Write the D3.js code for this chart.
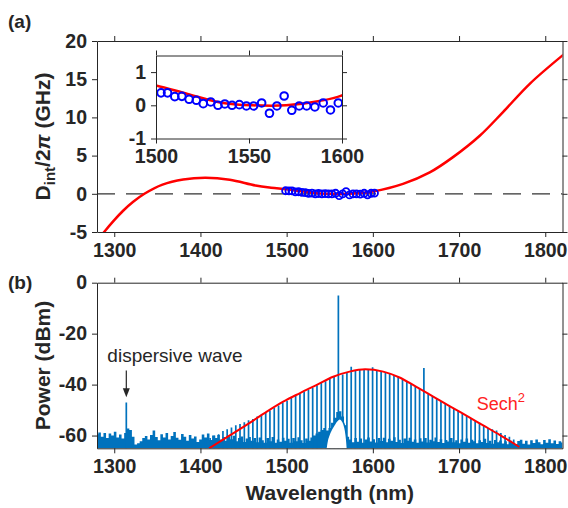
<!DOCTYPE html>
<meta charset="utf-8">
<script src="https://d3js.org/d3.v7.min.js"></script>
<style>
  body { margin: 0; background: #fff; }
  text { font-family: "Liberation Sans", Arial, sans-serif; fill: #262626; }
  .axis text { font-size: 19.5px; font-weight: bold; fill: #262626; font-family: "Liberation Sans", Arial, sans-serif; }
  .axis path, .axis line { stroke: #262626; stroke-width: 1; }
  .lbl { font-size: 21px; font-weight: bold; }
</style>
<body>
<script>

// ---- (a) integrated dispersion ----
var fitLambda = [1282, 1289, 1300, 1310, 1322, 1335, 1356, 1380, 1406, 1434, 1464, 1482, 1500, 1517, 1535, 1552, 1570, 1588, 1600, 1635, 1666, 1693, 1724, 1751, 1782, 1822];
var fitDint   = [-5.9, -4.9, -3.45, -2.25, -1.05, 0, 1.2, 1.87, 2.09, 1.83, 1.08, 0.8, 0.6, 0.34, 0.08, 0, 0, 0.13, 0.3, 1.3, 2.8, 4.8, 7.6, 10.7, 14.4, 18.3];

var measLambda = [1498.8, 1502.7, 1506.2, 1510.1, 1513.9, 1517.8, 1521.7, 1525.4, 1529.4, 1533.3, 1537.0, 1540.9, 1544.8, 1548.6, 1552.5, 1556.8, 1561.0, 1565.0, 1568.9, 1573.0, 1577.0, 1581.0, 1585.4, 1589.9, 1593.8, 1598.0, 1601.9];
var measDint   = [0.4, 0.375, 0.375, 0.26, 0.27, 0.18, 0.15, 0.05, 0.10, 0.0, 0.04, 0.0, 0.02, -0.02, -0.02, 0.07, -0.24, -0.02, 0.28, -0.15, -0.02, -0.02, -0.05, 0.07, -0.14, 0.07, 0.1];

// ---- (b) spectrum ----
var combLambda = [1406.2, 1411.2, 1416.2, 1421.1, 1426.1, 1431.0, 1436.0, 1441.0, 1445.9, 1450.9,
                  1455.8, 1460.8, 1465.8, 1470.7, 1475.7, 1480.6, 1485.6, 1490.6, 1495.5, 1500.5,
                  1505.4, 1510.4, 1515.4, 1520.3, 1525.3, 1530.2, 1535.2, 1540.2, 1545.1, 1550.1,
                  1555.0, 1560.0, 1565.0, 1569.9, 1574.9, 1579.8, 1584.8, 1589.8, 1594.7, 1599.7,
                  1604.6, 1609.6, 1614.6, 1619.5, 1624.5, 1629.4, 1634.4, 1639.4, 1644.3, 1649.3,
                  1654.2, 1659.2, 1664.2, 1669.1, 1674.1, 1679.0, 1684.0, 1689.0, 1693.9, 1698.9,
                  1703.8, 1708.8, 1713.8, 1718.7, 1723.7, 1728.6, 1733.6, 1738.6, 1743.5, 1748.5,
                  1753.4, 1758.4, 1763.4];
var combPeak = [-62.0, -61.0, -60.0, -59.5, -58.2, -57.5, -56.8, -56.0, -55.5, -54.8,
                -54.0, -53.5, -52.5, -51.8, -51.0, -50.2, -49.2, -48.2, -47.0, -46.3,
                -45.2, -44.5, -43.6, -42.8, -42.0, -41.2, -40.3, -39.4, -38.7, -37.8,
                -37.0, -5.0, -36.0, -35.3, -33.0, -34.5, -34.2, -34.0, -34.0, -33.2,
                -34.6, -34.8, -35.3, -35.8, -36.4, -37.0, -37.8, -38.8, -39.7, -40.7,
                -41.6, -33.5, -43.6, -44.6, -45.5, -46.5, -47.5, -48.5, -49.4, -50.4,
                -51.3, -52.3, -53.2, -54.2, -55.0, -56.0, -57.0, -57.5, -58.0, -59.0,
                -59.8, -60.5, -61.5];

var dwLambda = 1314, dwPeak = -47;

// noise floor, sampled every 3 nm from 1280 nm
var noiseStart = 1280, noiseStep = 3;
var noiseTop = [
  -59.5, -58.8, -60.5, -59.0, -61.0, -59.2, -60.0, -58.5, -60.8, -59.6,  // 1280
  -61.2, -59.0, -57.2, -57.8, -60.5, -63.5, -63.0, -62.2, -61.0, -60.2,  // 1310
  -61.5, -59.8, -58.0, -60.6, -61.8, -59.5, -60.8, -59.0, -61.5, -60.2,  // 1340
  -58.6, -60.9, -61.6, -59.4, -60.5, -62.0, -59.8, -61.2, -60.4, -62.5,  // 1370
  -61.5, -59.6, -60.8, -59.2, -61.7, -60.0, -61.0, -59.8, -61.5, -60.6,  // 1400
  -62.0, -60.3, -61.4, -60.1, -62.2, -61.0, -60.4, -62.5, -61.2, -60.6,  // 1430
  -62.0, -61.0, -62.6, -60.8, -61.8, -62.8, -61.0, -62.2, -60.6, -62.8,  // 1460
  -61.5, -62.4, -60.9, -62.0, -61.3, -62.8, -61.0, -62.2, -60.7, -61.8,  // 1490
  -62.9, -61.2, -62.0, -60.8, -60.0, -59.2, -58.5, -57.8, -57.0, -58.0,  // 1520
  -57.0, -55.0, -53.0, -50.8, -50.5, -52.5, -56.0, -60.5, -61.5, -62.6,  // 1550
  -61.0, -62.4, -61.2, -62.8, -61.5, -60.8, -62.3, -61.4, -62.7, -61.0,  // 1580
  -62.1, -60.9, -62.6, -61.3, -62.0, -60.7, -62.5, -61.6, -62.9, -61.2,  // 1610
  -62.0, -60.9, -62.4, -61.5, -62.8, -61.1, -62.3, -61.0, -62.7, -61.6,  // 1640
  -62.2, -60.8, -62.5, -61.4, -62.9, -61.7, -62.3, -61.0, -62.6, -61.8,  // 1670
  -63.0, -61.5, -62.4, -61.2, -62.8, -61.6, -62.2, -63.0, -61.8, -62.5,  // 1700
  -61.3, -62.9, -62.0, -63.2, -61.7, -62.6, -61.9, -63.1, -62.2, -63.4,  // 1730
  -62.0, -62.8, -63.3, -62.1, -61.6, -63.2, -62.0, -63.5, -61.8, -62.9,  // 1760
  -61.5, -62.6, -63.4, -61.7, -62.8, -61.4, -63.0, -61.9, -63.3, -62.2,  // 1790
  -62.7];

// raised floor under the pump (lower edge of the trace)
var humpLambda = [1545.5, 1547, 1549, 1552, 1555, 1558, 1561.5, 1564, 1566.5, 1568.5, 1569.7, 1570.5];
var humpLow    = [-65, -62, -59.8, -57.5, -55.8, -54.3, -53.4, -53.9, -55.5, -58.3, -61.5, -65];

// sech^2 fit
var sechLambda = [1410, 1430, 1457.6, 1477, 1496, 1515, 1535, 1554, 1573, 1591, 1612, 1631, 1650, 1670, 1690, 1709, 1728, 1747, 1770];
var sechPower  = [-65, -60.8, -54.9, -50.6, -46.7, -43.4, -40.1, -36.9, -34.9, -34, -34.9, -37.2, -40.8, -44.7, -48.6, -52.3, -56, -59.7, -64.5];

var xTicks = [1300, 1400, 1500, 1600, 1700, 1800];
var yTicksA = [-5, 0, 5, 10, 15, 20];
var yTicksB = [-60, -40, -20, 0];
var xTicksInset = [1500, 1550, 1600];
var yTicksInset = [-1, 0, 1];

var blue = "#0072BD";

var svg = d3.select("body").append("svg")
    .attr("width", 568)
    .attr("height", 508);

svg.append("rect").attr("width", 568).attr("height", 508).attr("fill", "#fff");

var x = d3.scaleLinear().domain([1280, 1820]).range([97, 562.5]);
var yA = d3.scaleLinear().domain([-5, 20]).range([232, 41]);
var yB = d3.scaleLinear().domain([-65, 0]).range([448.3, 282.7]);
var xi = d3.scaleLinear().domain([1500, 1600]).range([156, 342]);
var yi = d3.scaleLinear().domain([-1, 1.5]).range([138.5, 55.5]);

var defs = svg.append("defs");
function clip(id, xs, ys) {
    defs.append("clipPath").attr("id", id).append("rect")
        .attr("x", xs.range()[0]).attr("y", ys.range()[1])
        .attr("width", xs.range()[1] - xs.range()[0])
        .attr("height", ys.range()[0] - ys.range()[1]);
}
clip("clipA", x, yA);
clip("clipB", x, yB);
clip("clipI", xi, yi);

// box with outward ticks on all four sides
function box(g, xs, ys, xt, yt) {
    var fmt = d => String(d);
    g.append("g").attr("class", "axis")
        .attr("transform", `translate(0,${ys.range()[0]})`)
        .call(d3.axisBottom(xs).tickValues(xt).tickSize(5).tickSizeOuter(0).tickPadding(6).tickFormat(fmt));
    g.append("g").attr("class", "axis")
        .attr("transform", `translate(0,${ys.range()[1]})`)
        .call(d3.axisTop(xs).tickValues(xt).tickSize(5).tickSizeOuter(0).tickFormat(""));
    g.append("g").attr("class", "axis")
        .attr("transform", `translate(${xs.range()[0]},0)`)
        .call(d3.axisLeft(ys).tickValues(yt).tickSize(5).tickSizeOuter(0).tickPadding(5).tickFormat(fmt));
    g.append("g").attr("class", "axis")
        .attr("transform", `translate(${xs.range()[1]},0)`)
        .call(d3.axisRight(ys).tickValues(yt).tickSize(5).tickSizeOuter(0).tickFormat(""));
}

// ================= panel (a) =================
var gA = svg.append("g");
var plotA = gA.append("g").attr("clip-path", "url(#clipA)");

plotA.append("line")
    .attr("x1", x.range()[0]).attr("x2", x.range()[1])
    .attr("y1", yA(0)).attr("y2", yA(0))
    .attr("stroke", "#333").attr("stroke-width", 1.2)
    .attr("stroke-dasharray", "18,11");

var fitPts = fitLambda.map((l, i) => [l, fitDint[i]]);
var measPts = measLambda.map((l, i) => [l, measDint[i]]);
var smooth = d3.curveCatmullRom.alpha(0.5);

plotA.append("path")
    .attr("d", d3.line().x(d => x(d[0])).y(d => yA(d[1])).curve(smooth)(fitPts))
    .attr("fill", "none").attr("stroke", "red").attr("stroke-width", 2.5);

plotA.selectAll(".m").data(measPts).join("circle")
    .attr("cx", d => x(d[0])).attr("cy", d => yA(d[1])).attr("r", 3.5)
    .attr("fill", "none").attr("stroke", "#0000ff").attr("stroke-width", 1.8);

box(gA, x, yA, xTicks, yTicksA);

// inset
var gI = svg.append("g");
gI.append("rect")
    .attr("x", xi.range()[0]).attr("y", yi.range()[1])
    .attr("width", xi.range()[1] - xi.range()[0]).attr("height", yi.range()[0] - yi.range()[1])
    .attr("fill", "#fff");
var plotI = gI.append("g").attr("clip-path", "url(#clipI)");
plotI.append("path")
    .attr("d", d3.line().x(d => xi(d[0])).y(d => yi(d[1])).curve(smooth)(fitPts))
    .attr("fill", "none").attr("stroke", "red").attr("stroke-width", 2.5);
gI.selectAll(".mi").data(measPts.filter(d => d[0] >= 1500 && d[0] <= 1600)).join("circle")
    .attr("cx", d => xi(d[0])).attr("cy", d => yi(d[1])).attr("r", 3.8)
    .attr("fill", "none").attr("stroke", "#0000ff").attr("stroke-width", 2);
box(gI, xi, yi, xTicksInset, yTicksInset);

// labels (a)
svg.append("text").attr("x", 8).attr("y", 27.5)
    .style("font-size", "19px").style("font-weight", "bold").text("(a)");

var yLabA = svg.append("text").attr("class", "lbl")
    .attr("transform", `translate(50,${(yA.range()[0] + yA.range()[1]) / 2}) rotate(-90)`)
    .attr("text-anchor", "middle");
yLabA.append("tspan").text("D");
yLabA.append("tspan").attr("dy", 5).style("font-size", "15px").text("int");
yLabA.append("tspan").attr("dy", -5).text("/2");
yLabA.append("tspan").style("font-style", "italic").text("π");
yLabA.append("tspan").text(" (GHz)");

// ================= panel (b) =================
var gB = svg.append("g");
var plotB = gB.append("g").attr("clip-path", "url(#clipB)");

var noisePts = noiseTop.map((v, i) => [noiseStart + i * noiseStep, v]);
plotB.append("path")
    .attr("d", d3.area().x(d => x(d[0])).y0(yB(-65)).y1(d => yB(d[1])).curve(d3.curveStep)(noisePts))
    .attr("fill", blue);

var lines = combLambda.map((l, i) => [l, combPeak[i]]).concat([[dwLambda, dwPeak]]);
plotB.selectAll(".c").data(lines).join("line")
    .attr("x1", d => x(d[0])).attr("x2", d => x(d[0]))
    .attr("y1", yB(-65)).attr("y2", d => yB(d[1]))
    .attr("stroke", blue).attr("stroke-width", 1.7);

var humpPts = humpLambda.map((l, i) => [l, humpLow[i]]);
plotB.append("path")
    .attr("d", d3.area().x(d => x(d[0])).y0(yB(-65)).y1(d => yB(d[1])).curve(d3.curveMonotoneX)(humpPts))
    .attr("fill", "#fff");
plotB.append("path")
    .attr("d", d3.line().x(d => x(d[0])).y(d => yB(d[1])).curve(d3.curveMonotoneX)(humpPts))
    .attr("fill", "none").attr("stroke", blue).attr("stroke-width", 1.6);

var sechPts = sechLambda.map((l, i) => [l, sechPower[i]]);
plotB.append("path")
    .attr("d", d3.line().x(d => x(d[0])).y(d => yB(d[1])).curve(d3.curveMonotoneX)(sechPts))
    .attr("fill", "none").attr("stroke", "red").attr("stroke-width", 2);

box(gB, x, yB, xTicks, yTicksB);

// annotations
svg.append("text").attr("x", x(1292)).attr("y", yB(-31))
    .style("font-size", "19px").text("dispersive wave");
svg.append("line")
    .attr("x1", x(dwLambda)).attr("x2", x(dwLambda))
    .attr("y1", yB(-34.5)).attr("y2", yB(-42.5))
    .attr("stroke", "#262626").attr("stroke-width", 1.2);
var ax = x(dwLambda), ay = yB(-45);
svg.append("path")
    .attr("d", `M${ax},${ay} L${ax - 3.5},${ay - 9} L${ax + 3.5},${ay - 9} Z`)
    .attr("fill", "#262626");

var sech = svg.append("text").attr("x", x(1720.6)).attr("y", yB(-49.9))
    .style("font-size", "18px").style("fill", "#f22");
sech.append("tspan").text("Sech");
sech.append("tspan").attr("dy", -8).style("font-size", "13px").text("2");

svg.append("text").attr("x", 8).attr("y", 289)
    .style("font-size", "19px").style("font-weight", "bold").text("(b)");

svg.append("text").attr("class", "lbl")
    .attr("transform", `translate(50,${(yB.range()[0] + yB.range()[1]) / 2}) rotate(-90)`)
    .attr("text-anchor", "middle").text("Power (dBm)");

svg.append("text").attr("class", "lbl")
    .attr("x", (x.range()[0] + x.range()[1]) / 2).attr("y", 500)
    .attr("text-anchor", "middle").text("Wavelength (nm)");

</script>
</body>
